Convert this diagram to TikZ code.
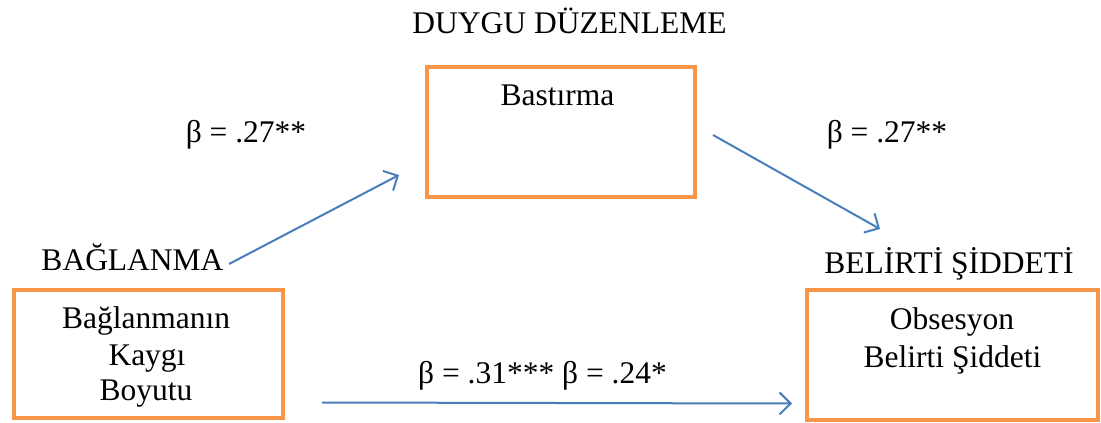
\documentclass[tikz,border=0pt]{standalone}
\usepackage{fontspec}
\setmainfont{Liberation Serif}
\usetikzlibrary{arrows.meta}
\definecolor{boxorange}{HTML}{F79646}
\definecolor{arrowblue}{HTML}{4A7EBB}
\tikzset{
  box/.style={draw=boxorange, line width=4pt, inner sep=0pt, anchor=north west},
  lbl/.style={inner sep=0pt, anchor=base, font=\fontsize{31.5}{36}\selectfont},
  conn/.style={draw=arrowblue, line width=2pt, -{Straight Barb[length=11pt,width=22pt,line width=2pt]}}
}
\begin{document}
\begin{tikzpicture}[x=1pt,y=-1pt]
\useasboundingbox[fill=white] (0,0) rectangle (1101,423);
% boxes
\node[box, minimum width=268pt, minimum height=130pt] (bast) at (425,65) {};
\node[box, minimum width=269pt, minimum height=128pt] (kaygi) at (12,288) {};
\node[box, minimum width=291pt, minimum height=130pt] (obs) at (805,288) {};
% headings
\node[lbl] (duygu) at (569.5,33) {DUYGU DÜZENLEME};
\node[lbl] (bagl) at (132.5,270) {BAĞLANMA};
\node[lbl] (belirti) at (949,273) {BELİRTİ ŞİDDETİ};
% box texts
\node[lbl] (tbast) at (557.5,105) {Bastırma};
\node[lbl] (tk1) at (146,328) {Bağlanmanın};
\node[lbl] (tk2) at (147,365) {Kaygı};
\node[lbl] (tk3) at (146,400) {Boyutu};
\node[lbl] (to1) at (952,329) {Obsesyon};
\node[lbl] (to2) at (952.5,367) {Belirti Şiddeti};
% coefficients
\node[lbl] (b1) at (246,142) {β = .27**};
\node[lbl] (b2) at (887,142) {β = .27**};
\node[lbl] (b3) at (542.5,383) {β = .31*** β = .24*};
% connectors
\coordinate (a1s) at (229,264);
\coordinate (a1e) at (399,175);
\coordinate (a2s) at (713,135);
\coordinate (a2e) at (880,229);
\coordinate (a3s) at (322,402.5);
\coordinate (a3e) at (792,403.5);
\draw[conn] (a1s) -- (a1e);
\draw[conn] (a2s) -- (a2e);
\draw[conn] (a3s) -- (a3e);
\end{tikzpicture}
\end{document}
